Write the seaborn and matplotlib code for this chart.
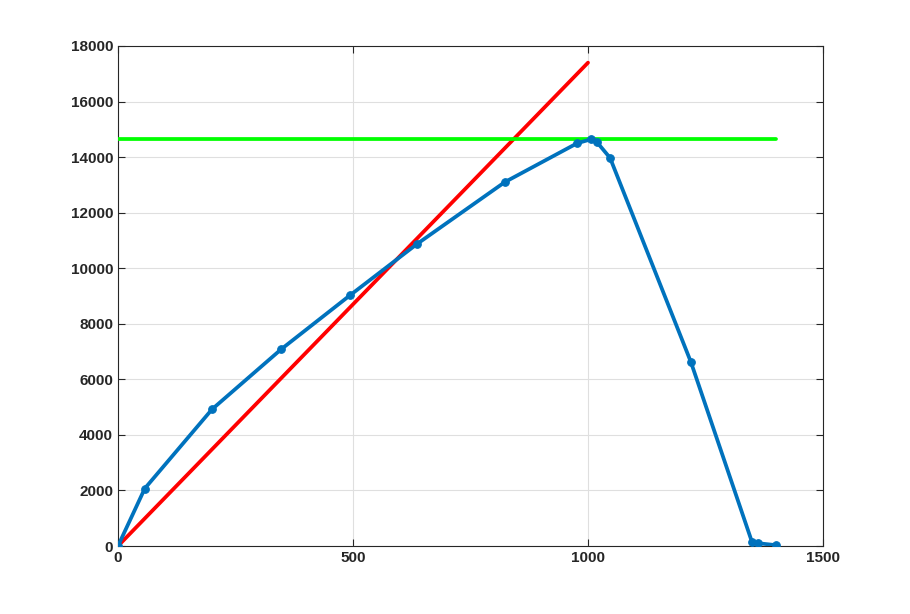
import numpy as np
import pandas as pd
import matplotlib
matplotlib.use("Agg")
import matplotlib.pyplot as plt
import seaborn as sns

# =========================
# DATA
# =========================
curve_x = [0, 57, 200, 347, 494, 636, 823, 977, 1006, 1019, 1047, 1219, 1349, 1362, 1400]
curve_y = [0, 2070, 4920, 7080, 9030, 10870, 13100, 14500, 14640, 14540, 13970, 6620, 140, 100, 30]

line_x = [0, 1000]
line_y = [0, 17400]

peak_x = [0, 1400]
peak_y = [14640, 14640]

# =========================
# STYLE
# =========================
sns.set_theme(style="white")
plt.rcParams['font.family'] = ['Liberation Sans', 'DejaVu Sans']

fig = plt.figure(figsize=(9.1, 6.14), dpi=100)
ax = fig.add_axes([118 / 910, 1 - 546 / 614, (823 - 118) / 910, (546 - 46) / 614])

df = pd.DataFrame({'x': curve_x, 'y': curve_y})

sns.lineplot(x=line_x, y=line_y, color='#FF0000', linewidth=2.7, ax=ax, zorder=3)
sns.lineplot(x=peak_x, y=peak_y, color='#00FF00', linewidth=2.7, ax=ax, zorder=3)
sns.lineplot(data=df, x='x', y='y', color='#0072BD', linewidth=2.7,
             marker='o', markersize=5.5, markeredgecolor='#0072BD', ax=ax, zorder=4,
             sort=False)

ax.set_xlim(0, 1500)
ax.set_ylim(0, 18000)
ax.set_xticks([0, 500, 1000, 1500])
ax.set_yticks(np.arange(0, 18001, 2000))
ax.set_xlabel("")
ax.set_ylabel("")

ax.grid(True, color='#DFDFDF', linewidth=0.8)
ax.set_axisbelow(True)
for s in ax.spines.values():
    s.set_color('#262626')
    s.set_linewidth(0.8)

ax.tick_params(direction='in', length=5, width=0.8, colors='#262626',
               labelsize=11, top=True, right=True, bottom=True, left=True)
for lbl in ax.get_xticklabels() + ax.get_yticklabels():
    lbl.set_fontweight('bold')

fig.savefig("out.png", dpi=100)
